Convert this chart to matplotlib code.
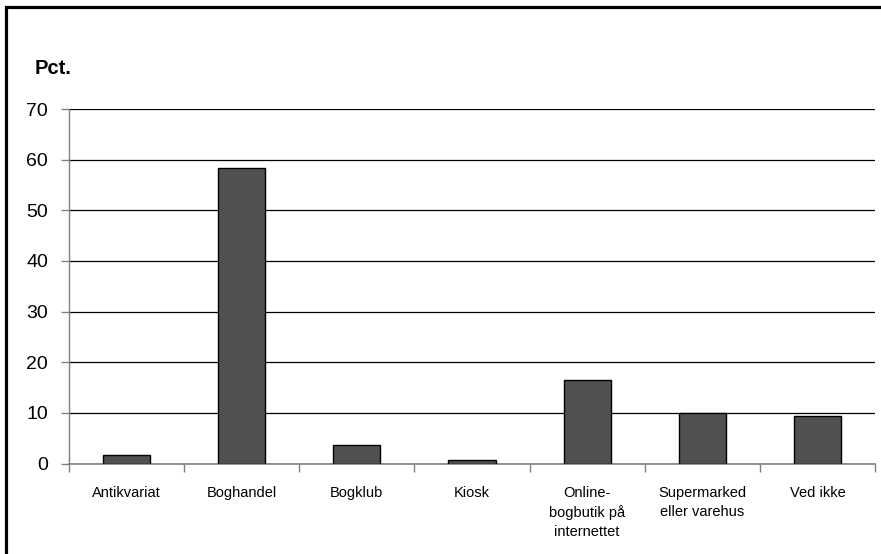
import matplotlib
matplotlib.use("Agg")
import matplotlib.pyplot as plt
from matplotlib.patches import Rectangle
import numpy as np

plt.rcParams['font.family'] = ['Liberation Sans', 'DejaVu Sans']

categories = ["Antikvariat", "Boghandel", "Bogklub", "Kiosk",
              "Online-\nbogbutik på\ninternettet", "Supermarked\neller varehus", "Ved ikke"]
values = [1.6, 58.4, 3.7, 0.7, 16.4, 9.9, 9.3]
y_ticks = [0, 10, 20, 30, 40, 50, 60, 70]

W, H = 881, 554
fig = plt.figure(figsize=(W / 100, H / 100), dpi=100)

# axes box in pixel terms of the reference
left, right, top, bottom = 69, 875, 109, 463.5
ax = fig.add_axes([left / W, 1 - bottom / H, (right - left) / W, (bottom - top) / H])

x = np.arange(len(categories))
ax.bar(x, values, width=0.41, color="#505050", edgecolor="black", linewidth=1.0, zorder=3)

ax.set_xlim(-0.5, len(categories) - 0.5)
ax.set_ylim(0, 70)
ax.set_yticks(y_ticks)
ax.set_yticklabels([str(v) for v in y_ticks], fontsize=14)
ax.yaxis.grid(True, color="black", linewidth=0.9, zorder=0)

# category labels centered, ticks on boundaries
ax.set_xticks(x)
ax.set_xticklabels(categories, fontsize=10.5, linespacing=1.45, va="top")
ax.tick_params(axis="x", length=0, pad=16)
ax.set_xticks(np.arange(-0.5, len(categories)), minor=True)
ax.tick_params(axis="x", which="minor", length=6, width=1, color="#808080", direction="out")
ax.tick_params(axis="y", length=6, width=1, color="#808080", direction="out", pad=9)

for s in ["top", "right"]:
    ax.spines[s].set_visible(False)
ax.spines["left"].set_color("#808080")
ax.spines["bottom"].set_color("#808080")
ax.spines["left"].set_linewidth(1)
ax.spines["bottom"].set_linewidth(1.2)

fig.text(35 / W, 1 - 68 / H, "Pct.", fontsize=14.5, fontweight="bold", va="center", ha="left")

# outer frame, open to the right/bottom like the cropped reference
fig.patches.append(Rectangle((6 / W, -0.05), 1.1, 1 - 7 / H + 0.05, transform=fig.transFigure,
                             fill=False, edgecolor="black", linewidth=2.3))

fig.savefig("out.png", dpi=100)
